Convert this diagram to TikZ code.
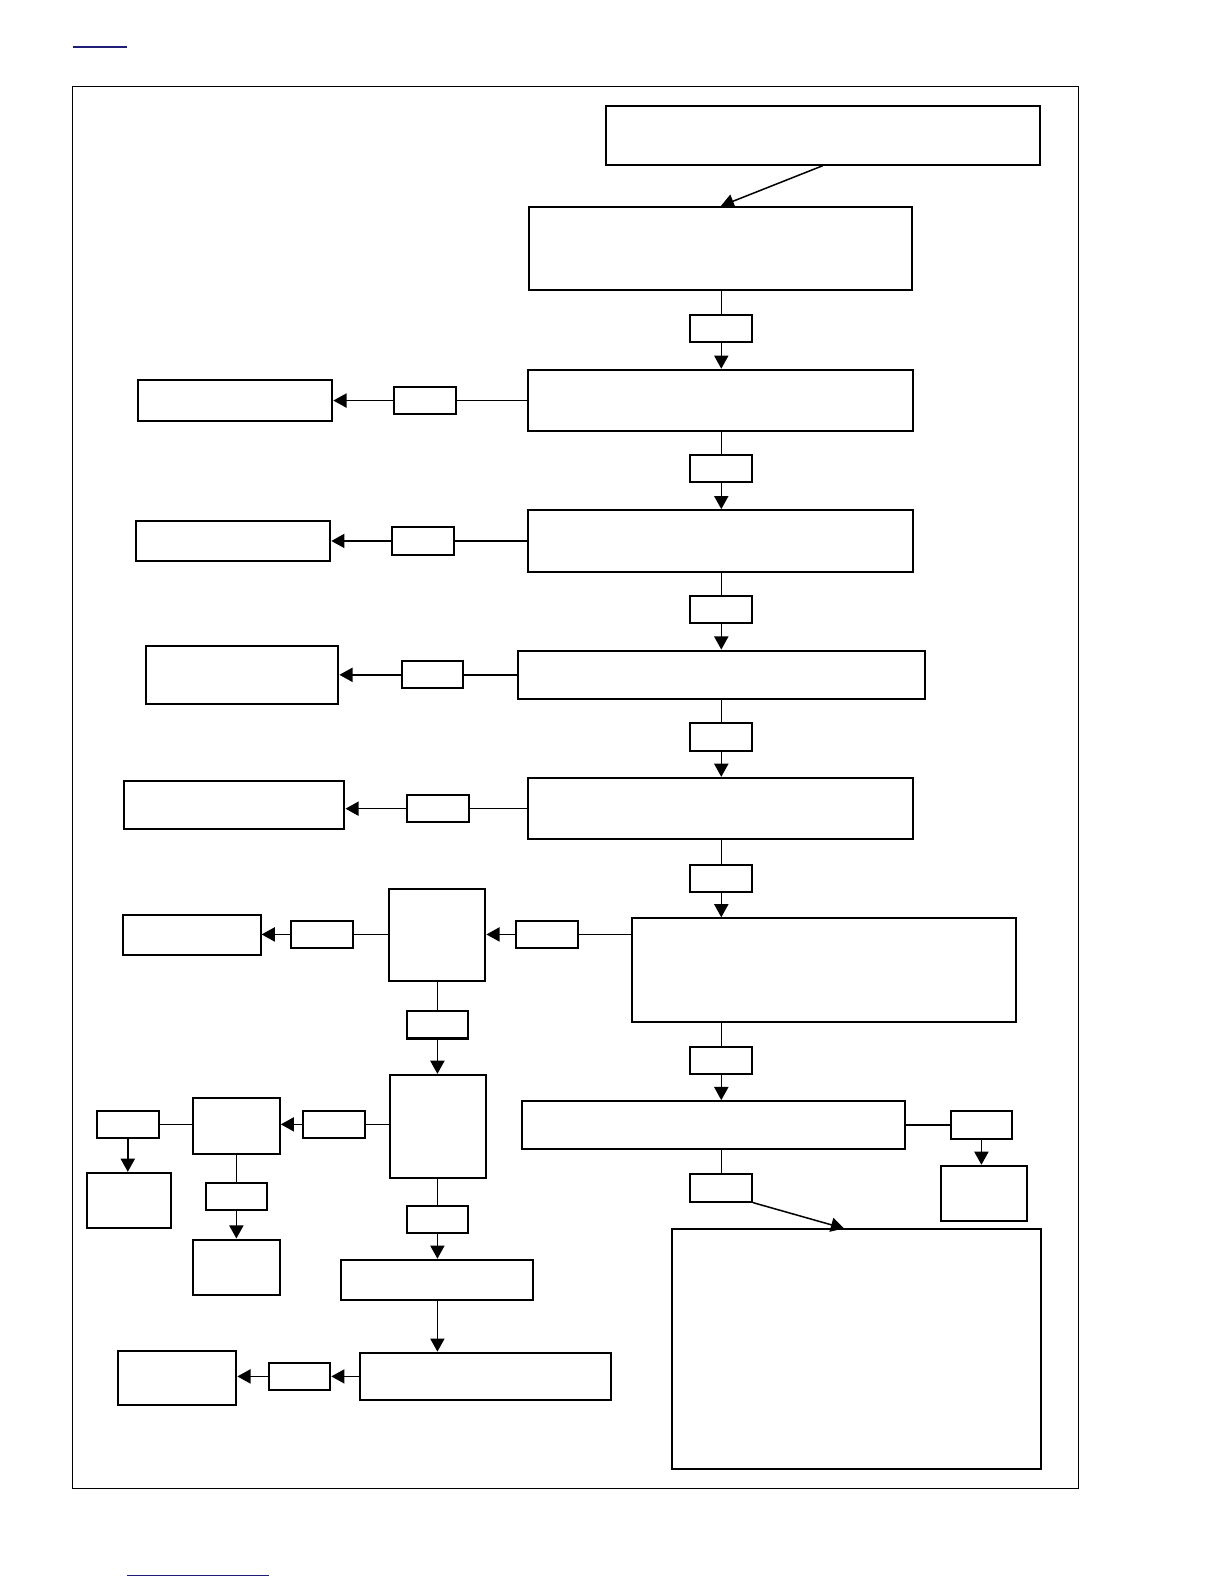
\documentclass[tikz,border=0pt]{standalone}
\usetikzlibrary{arrows.meta}
\definecolor{linkblue}{RGB}{30,30,120}

\begin{document}
\begin{tikzpicture}[
  x=1pt, y=-1pt,
  box/.style={draw, line width=2pt, inner sep=0pt, fill=white},
  tag/.style={box, minimum width=61pt, minimum height=27pt},
  link/.style={draw, line width=1.5pt},
  flow/.style={draw, line width=1.5pt, -{Triangle[length=13pt,width=14pt]}},
]
\useasboundingbox (0,0) rectangle (1212,1568);

% ---------------- page frame and stray links ----------------
\draw[line width=0.9pt] (72,86) rectangle (1068,1473);
\draw[linkblue, line width=1.3pt] (72,46.5) -- (126,46.5);
\draw[linkblue, line width=1.3pt] (126,1559.6) -- (266,1559.6);

% ---------------- main column ----------------
\node[box, minimum width=429pt, minimum height=58pt]  (a)  at (814.5, 134.0) {};
\node[box, minimum width=379pt, minimum height=82pt]  (b1) at (713.5, 246.0) {};
\node[tag]                                            (l1) at (714.0, 325.0) {};
\node[box, minimum width=381pt, minimum height=61pt]  (b2) at (713.5, 396.5) {};
\node[tag]                                            (l2) at (714.0, 464.0) {};
\node[box, minimum width=381pt, minimum height=61pt]  (b3) at (713.5, 535.5) {};
\node[tag]                                            (l3) at (714.0, 603.5) {};
\node[box, minimum width=403pt, minimum height=48pt]  (b4) at (714.5, 668.0) {};
\node[tag]                                            (l4) at (714.0, 729.5) {};
\node[box, minimum width=381pt, minimum height=61pt]  (b5) at (713.5, 800.5) {};
\node[tag]                                            (l5) at (714.0, 869.5) {};
\node[box, minimum width=380pt, minimum height=103pt] (b6) at (816.0, 960.5) {};
\node[tag]                                            (l6) at (714.0,1049.5) {};
\node[box, minimum width=379pt, minimum height=47pt]  (b7) at (706.5,1113.5) {};
\node[tag]                                            (l7) at (714.0,1176.0) {};
\node[box, minimum width=365pt, minimum height=237pt] (k)  at (847.5,1335.5) {};

\draw[flow] (a.south) -- (b1.north);
\draw[link] (l1.north |- b1.south) -- (l1.north);
\draw[flow] (l1.south) -- (l1.south |- b2.north);
\draw[link] (l2.north |- b2.south) -- (l2.north);
\draw[flow] (l2.south) -- (l2.south |- b3.north);
\draw[link] (l3.north |- b3.south) -- (l3.north);
\draw[flow] (l3.south) -- (l3.south |- b4.north);
\draw[link] (l4.north |- b4.south) -- (l4.north);
\draw[flow] (l4.south) -- (l4.south |- b5.north);
\draw[link] (l5.north |- b5.south) -- (l5.north);
\draw[flow] (l5.south) -- (l5.south |- b6.north);
\draw[link] (l6.north |- b6.south) -- (l6.north);
\draw[flow] (l6.south) -- (l6.south |- b7.north);
\draw[link] (l7.north |- b7.south) -- (l7.north);
\draw[flow] (l7.south east) -- ([xshift=-12pt]k.north);

% ---------------- side exits of the column ----------------
\node[tag]                                            (t2) at (420.5, 396.5) {};
\node[box, minimum width=192pt, minimum height=41pt]  (c2) at (233.0, 396.5) {};
\node[tag]                                            (t3) at (419.0, 535.5) {};
\node[box, minimum width=192pt, minimum height=40pt]  (c3) at (231.0, 535.5) {};
\node[tag]                                            (t4) at (428.0, 668.0) {};
\node[box, minimum width=190pt, minimum height=58pt]  (c4) at (240.0, 668.0) {};
\node[tag]                                            (t5) at (433.5, 800.5) {};
\node[box, minimum width=218pt, minimum height=48pt]  (c5) at (232.0, 797.0) {};

\draw[link] (b2.west) -- (t2.east);
\draw[flow] (t2.west) -- (t2.west -| c2.east);
\draw[link] (b3.west) -- (t3.east);
\draw[flow] (t3.west) -- (t3.west -| c3.east);
\draw[link] (b4.west) -- (t4.east);
\draw[flow] (t4.west) -- (t4.west -| c4.east);
\draw[link] (b5.west) -- (t5.east);
\draw[flow] (t5.west) -- (t5.west -| c5.east);

\node[tag]                                            (t7) at (971.5,1113.5) {};
\node[box, minimum width=86pt, minimum height=55pt]   (j1) at (974.0,1181.5) {};
\draw[link] (b7.east) -- (t7.west);
\draw[flow] (t7.south) -- (t7.south |- j1.north);

% ---------------- left branch ----------------
\node[tag]                                            (t6) at (541.5, 925.0) {};
\node[box, minimum width=95pt, minimum height=91pt]   (d1) at (433.0, 925.5) {};
\node[tag]                                            (u1) at (318.5, 925.0) {};
\node[box, minimum width=136pt, minimum height=39pt]  (e1) at (190.0, 925.5) {};
\node[tag]                                            (u2) at (433.0,1014.5) {};
\node[box, minimum width=95pt, minimum height=102pt]  (d2) at (434.0,1115.0) {};

\draw[link] (t6.east -| b6.west) -- (t6.east);
\draw[flow] (t6.west) -- (t6.west -| d1.east);
\draw[link] (u1.east -| d1.west) -- (u1.east);
\draw[flow] (u1.west) -- (u1.west -| e1.east);
\draw[link] (d1.south) -- (u2.north);
\draw[flow] (u2.south) -- (u2.south |- d2.north);

\node[tag]                                            (u3) at (330.5,1113.0) {};
\node[box, minimum width=86pt, minimum height=55pt]   (f1) at (234.0,1114.5) {};
\node[tag]                                            (u4) at (126.5,1113.0) {};
\node[box, minimum width=83pt, minimum height=55pt]   (g1) at (127.5,1188.5) {};
\node[tag]                                            (u5) at (234.0,1184.5) {};
\node[box, minimum width=86pt, minimum height=55pt]   (g2) at (234.0,1254.5) {};

\draw[link] (u3.east -| d2.west) -- (u3.east);
\draw[flow] (u3.west) -- (u3.west -| f1.east);
\draw[link] (u4.east -| f1.west) -- (u4.east);
\draw[flow] (u4.south) -- (u4.south |- g1.north);
\draw[link] (f1.south) -- (u5.north);
\draw[flow] (u5.south) -- (g2.north);

\node[tag]                                            (u6) at (433.0,1207.5) {};
\node[box, minimum width=190pt, minimum height=40pt]  (h1) at (433.0,1267.0) {};
\node[box, minimum width=249pt, minimum height=47pt]  (h2) at (480.5,1362.5) {};
\node[tag]                                            (u7) at (296.5,1362.5) {};
\node[box, minimum width=117pt, minimum height=54pt]  (i1) at (175.5,1364.0) {};

\draw[link] (u6.north |- d2.south) -- (u6.north);
\draw[flow] (u6.south) -- (h1.north);
\draw[flow] (h1.south) -- (h1.south |- h2.north);
\draw[flow] (h2.west) -- (u7.east);
\draw[flow] (u7.west) -- (u7.west -| i1.east);

\end{tikzpicture}
\end{document}
